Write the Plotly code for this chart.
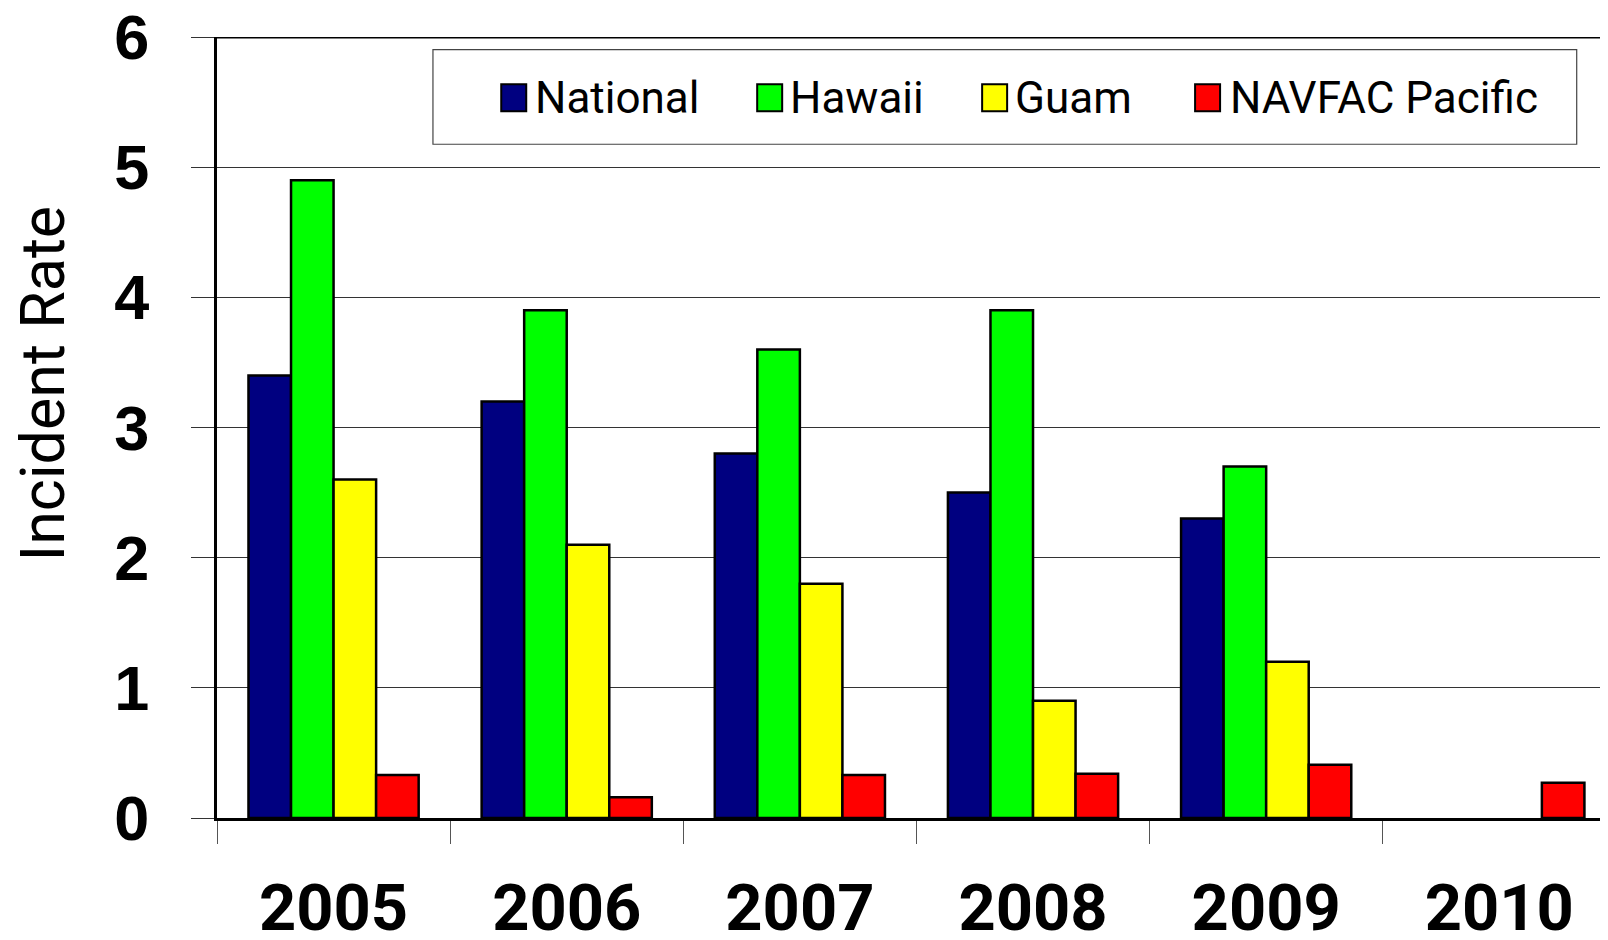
import plotly.graph_objects as go

years = ["2005", "2006", "2007", "2008", "2009", "2010"]
series_names = ["National", "Hawaii", "Guam", "NAVFAC Pacific"]
national = [3.4, 3.2, 2.8, 2.5, 2.3, None]
hawaii = [4.9, 3.9, 3.6, 3.9, 2.7, None]
guam = [2.6, 2.1, 1.8, 0.9, 1.2, None]
navfac = [0.33, 0.16, 0.33, 0.34, 0.41, 0.27]
colors = ["#000080", "#00FF00", "#FFFF00", "#FF0000"]
y_ticks = [0, 1, 2, 3, 4, 5, 6]

# page body has an 8px default margin: figure is drawn from (8, 8)
OFF = 8
W, H = 1608 - OFF, 940 - OFF
L, T, B = 216.7 - OFF, 36.7 - OFF, 818.2 - OFF
PW, PH = W - L, B - T

def px(p):
    return (p - OFF - L) / PW

def py(p):
    return 1 - (p - OFF - T) / PH

font_main = "Roboto, Liberation Sans, Arial, sans-serif"

fig = go.Figure()
for name, vals, col in zip(series_names, [national, hawaii, guam, navfac], colors):
    fig.add_trace(go.Bar(
        x=years, y=vals, name=name, showlegend=False,
        marker=dict(color=col, line=dict(color="black", width=2.5)),
    ))

# Top border line
fig.add_shape(type="line", xref="paper", yref="y", x0=0, x1=1, y0=6, y1=6,
              line=dict(color="black", width=3))

# Manual legend (positions in page pixels)
fig.add_shape(type="rect", xref="paper", yref="paper",
              x0=px(432.7), x1=px(1576.7), y0=py(144), y1=py(49.3),
              line=dict(color="#444", width=1.2), fillcolor="white", layer="below")
sw_left = [501, 757, 982, 1195]
txt_left = [533, 788, 1013, 1228]
for name, col, sl, tl in zip(series_names, colors, sw_left, txt_left):
    fig.add_shape(type="rect", xref="paper", yref="paper",
                  x0=px(sl), x1=px(sl + 25), y0=py(111), y1=py(84),
                  line=dict(color="black", width=2), fillcolor=col)
    fig.add_annotation(text=name, xref="paper", yref="paper", x=px(tl), y=py(98),
                       xanchor="left", yanchor="middle", showarrow=False,
                       font=dict(family=font_main, size=44, color="black"))

# Y axis title
fig.add_annotation(text="Incident Rate", xref="paper", yref="paper",
                   x=px(43), y=py(383), textangle=-90, showarrow=False,
                   xanchor="center", yanchor="middle",
                   font=dict(family=font_main, size=61, color="black"))

fig.update_layout(
    width=W, height=H,
    margin=dict(l=L, r=0, t=T, b=H - B, pad=0),
    plot_bgcolor="white", paper_bgcolor="white",
    barmode="group", bargap=0.27, bargroupgap=0,
    showlegend=False,
)
fig.update_xaxes(
    type="category", range=[-0.5, -0.5 + PW / 233.2], automargin=False,
    showgrid=False, showline=True, linecolor="black", linewidth=2.5,
    ticks="outside", tickson="boundaries", ticklen=23, tickwidth=1.2, tickcolor="#555",
    ticklabelstandoff=31, ticklabeloverflow="allow",
    tickfont=dict(family=font_main, size=65, color="black", weight="bold"),
)
fig.update_yaxes(
    range=[0, 6], tickmode="array", tickvals=y_ticks, ticktext=[str(v) for v in y_ticks],
    automargin=False,
    showgrid=True, gridcolor="#333", gridwidth=1,
    showline=True, linecolor="black", linewidth=3,
    ticks="outside", ticklen=23, tickwidth=1.2, tickcolor="#333",
    ticklabelstandoff=29, ticklabeloverflow="allow", zeroline=False,
    tickfont=dict(family="Liberation Sans, Arial, sans-serif", size=63, color="black", weight="bold"),
)

fig.write_html("out.html")
